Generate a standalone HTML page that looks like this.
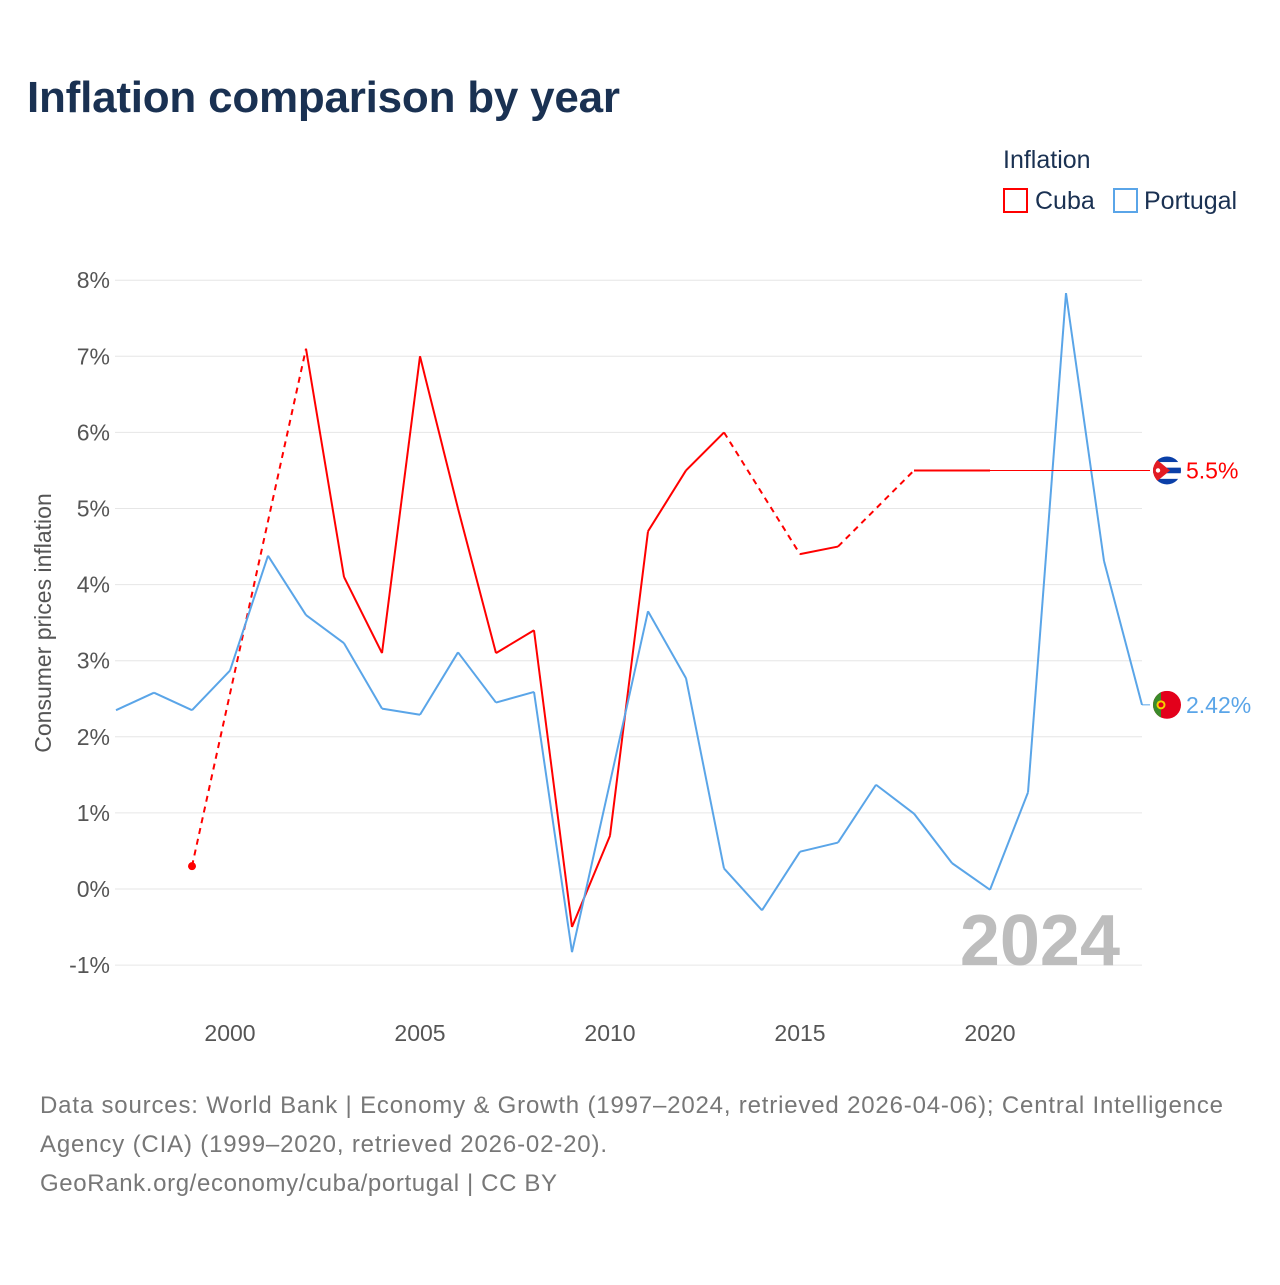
<!DOCTYPE html>
<html><head><meta charset="utf-8"><style>
body{margin:0;background:#fff;font-family:"Liberation Sans",sans-serif}
#wrap{position:relative;width:1280px;height:1280px}
</style></head><body>
<div id="wrap">
<svg id="chart" width="1280" height="1280" xmlns="http://www.w3.org/2000/svg">
<defs><clipPath id="c1"><circle id="c1c" cx="1167" cy="470" r="14"/></clipPath><clipPath id="c2"><circle id="c2c" cx="1167" cy="705" r="14"/></clipPath></defs>
<text x="27" y="112" font-size="44" font-weight="bold" fill="#1a3152" textLength="593">Inflation comparison by year</text>
<text x="1003" y="168" font-size="25" fill="#1a3152">Inflation</text>
<g><rect x="1004" y="189" width="23" height="23" fill="none" stroke="#f00" stroke-width="2"/><text x="1035" y="209" font-size="25" fill="#1a3152">Cuba</text></g>
<g><rect x="1114" y="189" width="23" height="23" fill="none" stroke="#5aa5e8" stroke-width="2"/><text x="1144" y="209" font-size="25" fill="#1a3152">Portugal</text></g>
<g id="grid"></g><g id="xt"></g><g id="series"></g>
<text transform="translate(51,623) rotate(-90)" text-anchor="middle" font-size="23" fill="#555">Consumer prices inflation</text>
<text x="1120" y="965" text-anchor="end" font-size="72" font-weight="bold" fill="#bdbdbd">2024</text>
<text font-size="24" fill="#777"><tspan x="40" y="1113" textLength="1183">Data sources: World Bank | Economy &amp; Growth (1997–2024, retrieved 2026-04-06); Central Intelligence</tspan><tspan x="40" y="1152" textLength="567">Agency (CIA) (1999–2020, retrieved 2026-02-20).</tspan><tspan x="40" y="1191" textLength="517">GeoRank.org/economy/cuba/portugal | CC BY</tspan></text>
</svg></div>
<script>
const years=[1997,1998,1999,2000,2001,2002,2003,2004,2005,2006,2007,2008,2009,2010,2011,2012,2013,2014,2015,2016,2017,2018,2019,2020,2021,2022,2023,2024];
const portugal=[2.35,2.58,2.35,2.87,4.38,3.6,3.23,2.37,2.29,3.11,2.45,2.59,-0.83,1.40,3.65,2.77,0.27,-0.28,0.49,0.61,1.37,0.99,0.34,-0.01,1.27,7.83,4.31,2.42];
const cuba=[null,null,0.3,null,null,7.1,4.1,3.1,7.0,5.0,3.1,3.4,-0.5,0.7,4.7,5.5,6.0,null,4.4,4.5,null,5.5,5.5,5.5,null,null,null,null];
const yTicks=[-1,0,1,2,3,4,5,6,7,8];
const xTicks=[2000,2005,2010,2015,2020];
const X=y=>230+(y-2000)*38, Y=v=>889-v*76.1;
const NS="http://www.w3.org/2000/svg";
function mk(t,a,p){const e=document.createElementNS(NS,t);for(const k in a)e.setAttribute(k,a[k]);p.appendChild(e);return e;}
const grid=document.getElementById('grid'),xt=document.getElementById('xt'),S=document.getElementById('series');
yTicks.forEach(v=>{
 const l=mk('line',{x1:115,x2:1142,y1:Y(v),y2:Y(v),stroke:'#e6e6e6','stroke-width':1},grid);
 
 
 const t=mk('text',{x:110,y:Y(v)+8,'text-anchor':'end','font-size':23,fill:'#555'},grid);
 t.textContent=v+'%';
 
 
});
xTicks.forEach(v=>{
 const t=mk('text',{x:X(v),y:1041,'text-anchor':'middle','font-size':23,fill:'#555'},xt);
 t.textContent=v;
 
 
});
function series(vals,color,name){
 const pts=[];vals.forEach((v,i)=>{if(v!==null)pts.push([years[i],v]);});
 for(let i=1;i<pts.length;i++){
  const a=pts[i-1],b=pts[i];
  const l=mk('line',{x1:X(a[0]),y1:Y(a[1]),x2:X(b[0]),y2:Y(b[1]),stroke:color,'stroke-width':2,'stroke-dasharray':(b[0]-a[0]>1)?'6,5':'none'},S);
  
  
 }
 return pts;
}
const cp=series(cuba,'#f00','cuba');
const c0=mk('circle',{cx:X(cp[0][0]),cy:Y(cp[0][1]),r:4,fill:'#f00'},S);


const pp=series(portugal,'#5aa5e8','portugal');
const cl=cp[cp.length-1], pl=pp[pp.length-1];
const e1=mk('line',{x1:X(cl[0]),y1:Y(cl[1]),x2:1150,y2:Y(cl[1]),stroke:'#f00','stroke-width':1},S);


const e2=mk('line',{x1:X(pl[0]),y1:Y(pl[1]),x2:1150,y2:Y(pl[1]),stroke:'#5aa5e8','stroke-width':1},S);


const cy1=Y(cl[1]),cy2=Y(pl[1]);
document.getElementById('c1c').setAttribute('cy',cy1);
document.getElementById('c2c').setAttribute('cy',cy2);
const f1=mk('g',{'clip-path':'url(#c1)'},S);


mk('rect',{x:1153,y:cy1-14,width:28,height:28,fill:'#fff'},f1);
[0,2,4].forEach(k=>mk('rect',{x:1153,y:cy1-14+k*5.6,width:28,height:5.6,fill:'#0a3fa8'},f1));
mk('path',{d:`M1153 ${cy1-14} L1170 ${cy1} L1153 ${cy1+14}Z`,fill:'#e31b23'},f1);
mk('circle',{cx:1158,cy:cy1,r:2.2,fill:'#fff'},f1);
const f2=mk('g',{'clip-path':'url(#c2)'},S);


mk('rect',{x:1153,y:cy2-14,width:28,height:28,fill:'#e3001b'},f2);
mk('rect',{x:1153,y:cy2-14,width:8,height:28,fill:'#3a8a2a'},f2);
mk('circle',{cx:1161,cy:cy2,r:4.5,fill:'#f5d000'},f2);
mk('circle',{cx:1161,cy:cy2,r:2.5,fill:'#e3001b'},f2);
const t1=mk('text',{x:1186,y:cy1+8,'font-size':23,fill:'#f00'},S);
t1.textContent=cl[1]+'%';


const t2=mk('text',{x:1186,y:cy2+8,'font-size':23,fill:'#5aa5e8'},S);
t2.textContent=pl[1]+'%';


</script>
</body></html>
